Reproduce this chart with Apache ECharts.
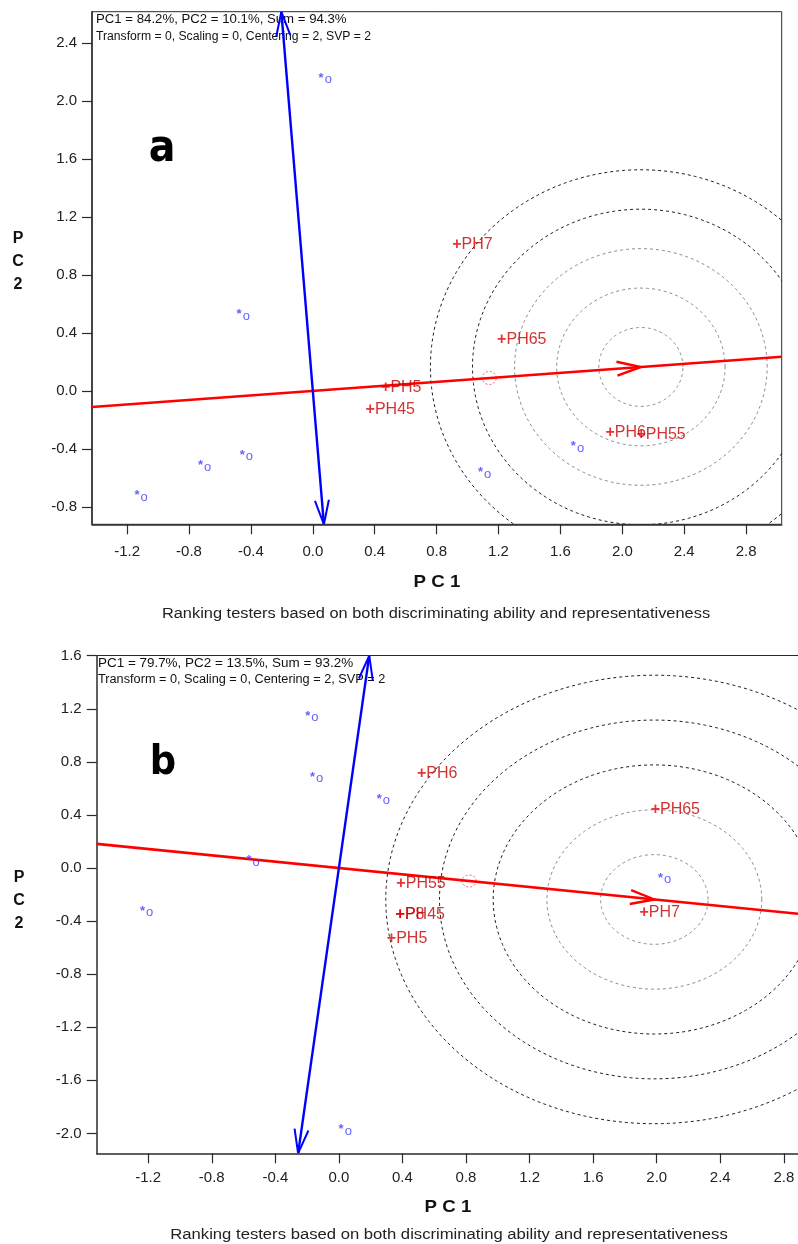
<!DOCTYPE html>
<html><head><meta charset="utf-8">
<script src="https://cdn.jsdelivr.net/npm/echarts@6/dist/echarts.min.js"></script>
<style>html,body{margin:0;padding:0;background:#fff}#c{width:798px;height:1244px}</style>
</head><body><div id="c"></div>
<script>
// ---------- Panel a data ----------
const testerNamesA = ['PH7', 'PH65', 'PH5', 'PH45', 'PH6', 'PH55'];
const testerXA = [0.93, 1.22, 0.47, 0.37, 1.92, 2.12];
const testerYA = [1.00, 0.34, 0.01, -0.14, -0.30, -0.31];
const genoXA = [0.06, -0.47, -0.72, -0.45, -1.13, 1.09, 1.69];
const genoYA = [2.18, 0.55, -0.49, -0.42, -0.70, -0.54, -0.36];
const meanA = [1.14, 0.089];
const idealA = [2.12, 0.165];
const ringRadiiA = [0.272, 0.544, 0.816, 1.088, 1.36];
const xTicksA = [-1.2, -0.8, -0.4, 0.0, 0.4, 0.8, 1.2, 1.6, 2.0, 2.4, 2.8];
const yTicksA = [-0.8, -0.4, 0.0, 0.4, 0.8, 1.2, 1.6, 2.0, 2.4];
const headerA = ['PC1 = 84.2%, PC2 = 10.1%, Sum = 94.3%', 'Transform = 0, Scaling = 0, Centering = 2, SVP = 2'];

// ---------- Panel b data ----------
const testerNamesB = ['PH6', 'PH65', 'PH55', 'PH7', 'PH45', 'P8', 'PH5'];
const testerXB = [0.52, 1.99, 0.39, 1.92, 0.385, 0.385, 0.33];
const testerYB = [0.70, 0.43, -0.13, -0.35, -0.36, -0.36, -0.545];
const genoXB = [-0.19, -0.16, 0.26, -0.56, -1.23, 2.03, 0.02];
const genoYB = [1.17, 0.71, 0.545, 0.08, -0.30, -0.05, -1.945];
const meanB = [0.82, -0.098];
const idealB = [1.985, -0.237];
const ringRadiiB = [0.338, 0.676, 1.014, 1.352, 1.69];
const xTicksB = [-1.2, -0.8, -0.4, 0.0, 0.4, 0.8, 1.2, 1.6, 2.0, 2.4, 2.8];
const yTicksB = [-2.0, -1.6, -1.2, -0.8, -0.4, 0.0, 0.4, 0.8, 1.2, 1.6];
const headerB = ['PC1 = 79.7%, PC2 = 13.5%, Sum = 93.2%', 'Transform = 0, Scaling = 0, Centering = 2, SVP = 2'];

const axisTitleX = 'P C 1';
const axisTitleY = ['P', 'C', '2'];
const caption = 'Ranking testers based on both discriminating ability and representativeness';

const FONT = "'Liberation Sans', Arial, sans-serif";
const NARROW = "'Liberation Sans Narrow', 'DejaVu Sans Condensed', sans-serif";

const panels = [
  {xr: [-1.427, 3.03], yr: [-0.92, 2.615], grid: {left: 92, top: 11.7, width: 689.7, height: 512.6},
   frame: true, xMargin: 20,
   names: testerNamesA, tx: testerXA, ty: testerYA, gx: genoXA, gy: genoYA,
   mean: meanA, ideal: idealA, rings: ringRadiiA, grayRings: 3, xt: xTicksA, yt: yTicksA},
  {xr: [-1.524, 2.889], yr: [-2.15, 1.6], grid: {left: 96.7, top: 655.7, width: 701.3, height: 497.6},
   frame: false, xMargin: 17,
   names: testerNamesB, tx: testerXB, ty: testerYB, gx: genoXB, gy: genoYB,
   mean: meanB, ideal: idealB, rings: ringRadiiB, grayRings: 2, xt: xTicksB, yt: yTicksB}
];

function arrowHead(tip, back, L, W) {
  const dx = tip[0] - back[0], dy = tip[1] - back[1];
  const len = Math.hypot(dx, dy) || 1;
  const ux = dx / len, uy = dy / len, nx = -uy, ny = ux;
  return [[tip[0] - L * ux + W * nx, tip[1] - L * uy + W * ny], tip,
          [tip[0] - L * ux - W * nx, tip[1] - L * uy - W * ny]];
}

function overlay(p) {
  return function (params, api) {
    const children = [];
    const ring = (c, r, style) => {
      const pts = [];
      for (let i = 0; i <= 240; i++) {
        const t = i / 240 * 2 * Math.PI;
        pts.push(api.coord([c[0] + r * Math.cos(t), c[1] + r * Math.sin(t)]));
      }
      children.push({type: 'polyline', shape: {points: pts}, style: Object.assign({fill: null}, style)});
    };
    p.rings.forEach((r, i) => ring(p.ideal, r, {
      stroke: i < p.grayRings ? '#8c8c8c' : '#1e1e1e', lineWidth: 1, lineDash: [3, 3]}));
    ring(p.mean, 0.045, {stroke: '#ff4040', lineWidth: 1, lineDash: [2, 2]});
    const s = p.ideal[1] / p.ideal[0];
    // AEC abscissa (red)
    const pL = api.coord([p.xr[0], s * p.xr[0]]), pR = api.coord([p.xr[1], s * p.xr[1]]);
    children.push({type: 'line', shape: {x1: pL[0], y1: pL[1], x2: pR[0], y2: pR[1]},
      style: {stroke: '#ff0000', lineWidth: 2.6}});
    const o = api.coord([0, 0]);
    children.push({type: 'polyline', shape: {points: arrowHead(api.coord(p.ideal), o, 24, 7)},
      style: {stroke: '#ff0000', lineWidth: 2.4, fill: null}});
    // AEC ordinate (blue)
    const pT = api.coord([-s * p.yr[1], p.yr[1]]), pB = api.coord([-s * p.yr[0], p.yr[0]]);
    children.push({type: 'line', shape: {x1: pT[0], y1: pT[1], x2: pB[0], y2: pB[1]},
      style: {stroke: '#0000ff', lineWidth: 2.4}});
    children.push({type: 'polyline', shape: {points: arrowHead(pT, o, 24, 7)},
      style: {stroke: '#0000ff', lineWidth: 2, fill: null}});
    children.push({type: 'polyline', shape: {points: arrowHead(pB, o, 24, 7)},
      style: {stroke: '#0000ff', lineWidth: 2, fill: null}});
    return {type: 'group', children};
  };
}

const grids = [], xAxes = [], yAxes = [], series = [];
panels.forEach((p, k) => {
  grids.push(Object.assign({show: p.frame, borderColor: '#2b2b2b', borderWidth: 1,
    containLabel: false, outerBoundsMode: 'none'}, p.grid));
  const axisCommon = {
    type: 'value', gridIndex: k, splitLine: {show: false},
    axisLine: {show: true, onZero: false, lineStyle: {color: '#2b2b2b', width: 1.5}},
    axisTick: {show: true, inside: false, length: 10, lineStyle: {color: '#2b2b2b', width: 1.2}},
    axisLabel: {color: '#222', fontSize: 15, fontFamily: FONT, formatter: v => v.toFixed(1)}
  };
  xAxes.push(Object.assign({}, axisCommon, {min: p.xr[0], max: p.xr[1],
    axisTick: Object.assign({}, axisCommon.axisTick, {customValues: p.xt}),
    axisLabel: Object.assign({}, axisCommon.axisLabel, {customValues: p.xt, margin: p.xMargin})}));
  yAxes.push(Object.assign({}, axisCommon, {min: p.yr[0], max: p.yr[1],
    axisTick: Object.assign({}, axisCommon.axisTick, {customValues: p.yt}),
    axisLabel: Object.assign({}, axisCommon.axisLabel, {customValues: p.yt, margin: 15})}));
  series.push({
    type: 'custom', xAxisIndex: k, yAxisIndex: k, clip: true, silent: true, z: 2,
    data: [[0, 0]], encode: {x: 0, y: 1}, renderItem: overlay(p)
  });
  series.push({
    type: 'scatter', xAxisIndex: k, yAxisIndex: k, silent: true, z: 5,
    symbolSize: 1, itemStyle: {color: 'transparent'},
    data: p.gx.map((x, i) => [x, p.gy[i]]),
    label: {show: true, formatter: '{s|*}{o|o}', position: [-3, -4],
      rich: {s: {color: '#3a3aff', fontSize: 13, fontFamily: FONT, fontWeight: 'bold'},
             o: {color: '#3a3aff', fontSize: 13, fontFamily: FONT, padding: [3, 0, 0, 1]}}}
  });
  series.push({
    type: 'scatter', xAxisIndex: k, yAxisIndex: k, silent: true, z: 6,
    symbolSize: 1, itemStyle: {color: 'transparent'},
    data: p.names.map((n, i) => ({name: n, value: [p.tx[i], p.ty[i]]})),
    label: {show: true, formatter: d => '{p|+}{t|' + d.name + '}', position: [-4, -9],
      rich: {p: {color: '#e00000', fontSize: 16, fontFamily: FONT, fontWeight: 'bold'},
             t: {color: '#c40000', fontSize: 16, fontFamily: FONT}}}
  });
});
// top frame line for panel b (its right edge lies beyond the picture)
xAxes.push({type: 'value', gridIndex: 1, position: 'top', min: panels[1].xr[0], max: panels[1].xr[1],
  axisLine: {show: true, onZero: false, lineStyle: {color: '#2b2b2b', width: 1.2}},
  axisTick: {show: false}, axisLabel: {show: false}, splitLine: {show: false}});

const graphics = [];
function txt(x, y, text, style, align, sx) {
  graphics.push({type: 'text', x, y, scaleX: sx || 1, silent: true,
    style: Object.assign({text, fill: '#111', font: '12px ' + FONT, textAlign: align || 'left', textVerticalAlign: 'middle'}, style)});
}
// headers
txt(96, 20, headerA[0], {}, 'left', 1.1);
txt(96, 37, headerA[1], {}, 'left', 1.015);
txt(98, 664, headerB[0], {}, 'left', 1.12);
txt(98, 680, headerB[1], {}, 'left', 1.06);
// panel letters
txt(162, 150, 'a', {font: 'bold 44px ' + NARROW, fill: '#000'}, 'center');
txt(163, 763, 'b', {font: 'bold 41px ' + NARROW, fill: '#000'}, 'center');
// axis titles
txt(437, 582, axisTitleX, {font: 'bold 17px ' + FONT}, 'center', 1.1);
txt(448, 1207, axisTitleX, {font: 'bold 17px ' + FONT}, 'center', 1.1);
axisTitleY.forEach((ch, i) => {
  txt(18, 239 + i * 23, ch, {font: 'bold 16px ' + FONT}, 'center');
  txt(19, 878 + i * 23, ch, {font: 'bold 16px ' + FONT}, 'center');
});
// captions
txt(436, 614, caption, {font: '14px ' + FONT, fill: '#222'}, 'center', 1.17);
txt(449, 1235, caption, {font: '14px ' + FONT, fill: '#222'}, 'center', 1.19);

const chart = echarts.init(document.getElementById('c'), null, {renderer: 'canvas'});
chart.setOption({
  animation: false, backgroundColor: '#fff',
  grid: grids, xAxis: xAxes, yAxis: yAxes, series, graphic: graphics
});
</script></body></html>
